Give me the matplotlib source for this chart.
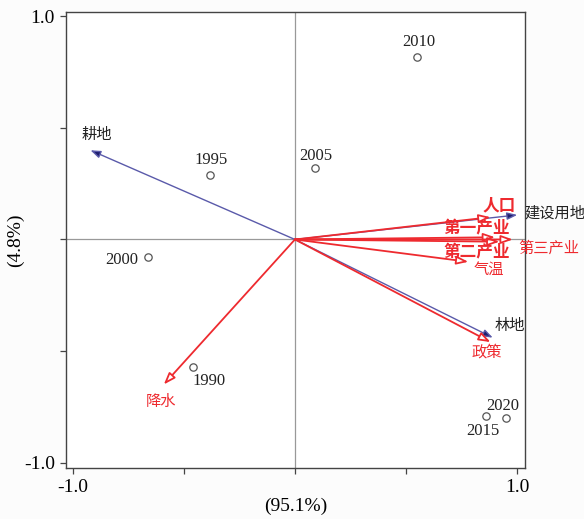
import matplotlib
matplotlib.use("Agg")
import matplotlib.pyplot as plt

# sample scores (years)
years = ['1990', '1995', '2000', '2005', '2010', '2015', '2020']
year_x = [-0.46, -0.38, -0.66, 0.09, 0.55, 0.86, 0.95]
year_y = [-0.57, 0.29, -0.08, 0.32, 0.82, -0.79, -0.80]

# response variables (land use)
land = ['耕地', '建设用地', '林地']
land_x = [-0.92, 1.00, 0.89]
land_y = [0.40, 0.11, -0.44]

# explanatory variables
factors = ['人口', '第一产业', '第二产业', '第三产业', '气温', '政策', '降水']
fac_x = [0.88, 0.90, 0.92, 0.98, 0.78, 0.88, -0.59]
fac_y = [0.10, 0.01, -0.01, 0.00, -0.10, -0.46, -0.65]

# label offsets in pixels (dx, dy up)
year_off = [(16, -14), (1, 15), (-26, -3), (1, 12), (2, 15), (-3, -15), (-3, 12)]
land_off = [(6, 16), (7, 2), (17, 12)]
land_ha = ['center', 'left', 'center']
fac_off = [(9, 12), (-18, 9), (-23, -11), (36, -9), (20, -8), (-4, -10), (-3, -17)]
fac_bold = [True, True, True, False, False, False, False]

navy = '#1f1f6e'
navy_line = '#5a5aaa'
red = '#ee2a2f'

plt.rcParams['font.family'] = ['Liberation Serif', 'Noto Sans CJK SC']

fig = plt.figure(figsize=(5.84, 5.19), dpi=100)
ax = fig.add_axes([0.113, 0.098, 0.786, 0.879])
ax.set_xlim(-1.03, 1.035)
ax.set_ylim(-1.025, 1.02)

ax.axhline(0, color='#999999', lw=0.9, zorder=1)
ax.axvline(0, color='#999999', lw=0.9, zorder=1)

cjk = ['Noto Sans CJK SC']

for i, name in enumerate(land):
    ax.annotate('', xy=(land_x[i], land_y[i]), xytext=(0, 0),
                arrowprops=dict(arrowstyle='-|>,head_length=0.6,head_width=0.22',
                                fc=navy, ec=navy_line, lw=1.0,
                                shrinkA=0, shrinkB=0), zorder=3)
    ax.annotate(name, xy=(land_x[i], land_y[i]), xytext=land_off[i],
                textcoords='offset pixels', ha=land_ha[i], va='center',
                fontsize=11, color='#222222', family=cjk, zorder=5)

for i, name in enumerate(factors):
    ax.annotate('', xy=(fac_x[i], fac_y[i]), xytext=(0, 0),
                arrowprops=dict(arrowstyle='-|>,head_length=0.7,head_width=0.25',
                                fc='white', ec=red, lw=1.3,
                                shrinkA=0, shrinkB=0), zorder=4)
    ax.annotate(name, xy=(fac_x[i], fac_y[i]), xytext=fac_off[i],
                textcoords='offset pixels', ha='center', va='center',
                fontsize=12 if fac_bold[i] else 11, color=red, family=cjk,
                fontweight='bold' if fac_bold[i] else 'normal', zorder=5)

ax.scatter(year_x, year_y, s=28, facecolors='white', edgecolors='#555555',
           linewidths=0.9, zorder=6)
for i, yr in enumerate(years):
    ax.annotate(yr, xy=(year_x[i], year_y[i]), xytext=year_off[i],
                textcoords='offset pixels', ha='center', va='center',
                fontsize=12, color='#222222', zorder=7)

ax.set_xticks([-1.0, -0.5, 0.0, 0.5, 1.0])
ax.set_xticklabels(['-1.0', '', '', '', '1.0'])
ax.set_yticks([-1.0, -0.5, 0.0, 0.5, 1.0])
ax.set_yticklabels(['-1.0', '', '', '', '1.0'])
ax.tick_params(labelsize=14, length=4, width=0.9, color='#444444', pad=4)
for s in ax.spines.values():
    s.set_color('#444444')
    s.set_linewidth(1.0)

ax.set_xlabel('(95.1%)', fontsize=14, labelpad=1)
ax.set_ylabel('(4.8%)', fontsize=14, labelpad=0)

fig.savefig('out.png', dpi=100, facecolor='#fcfcfc')
